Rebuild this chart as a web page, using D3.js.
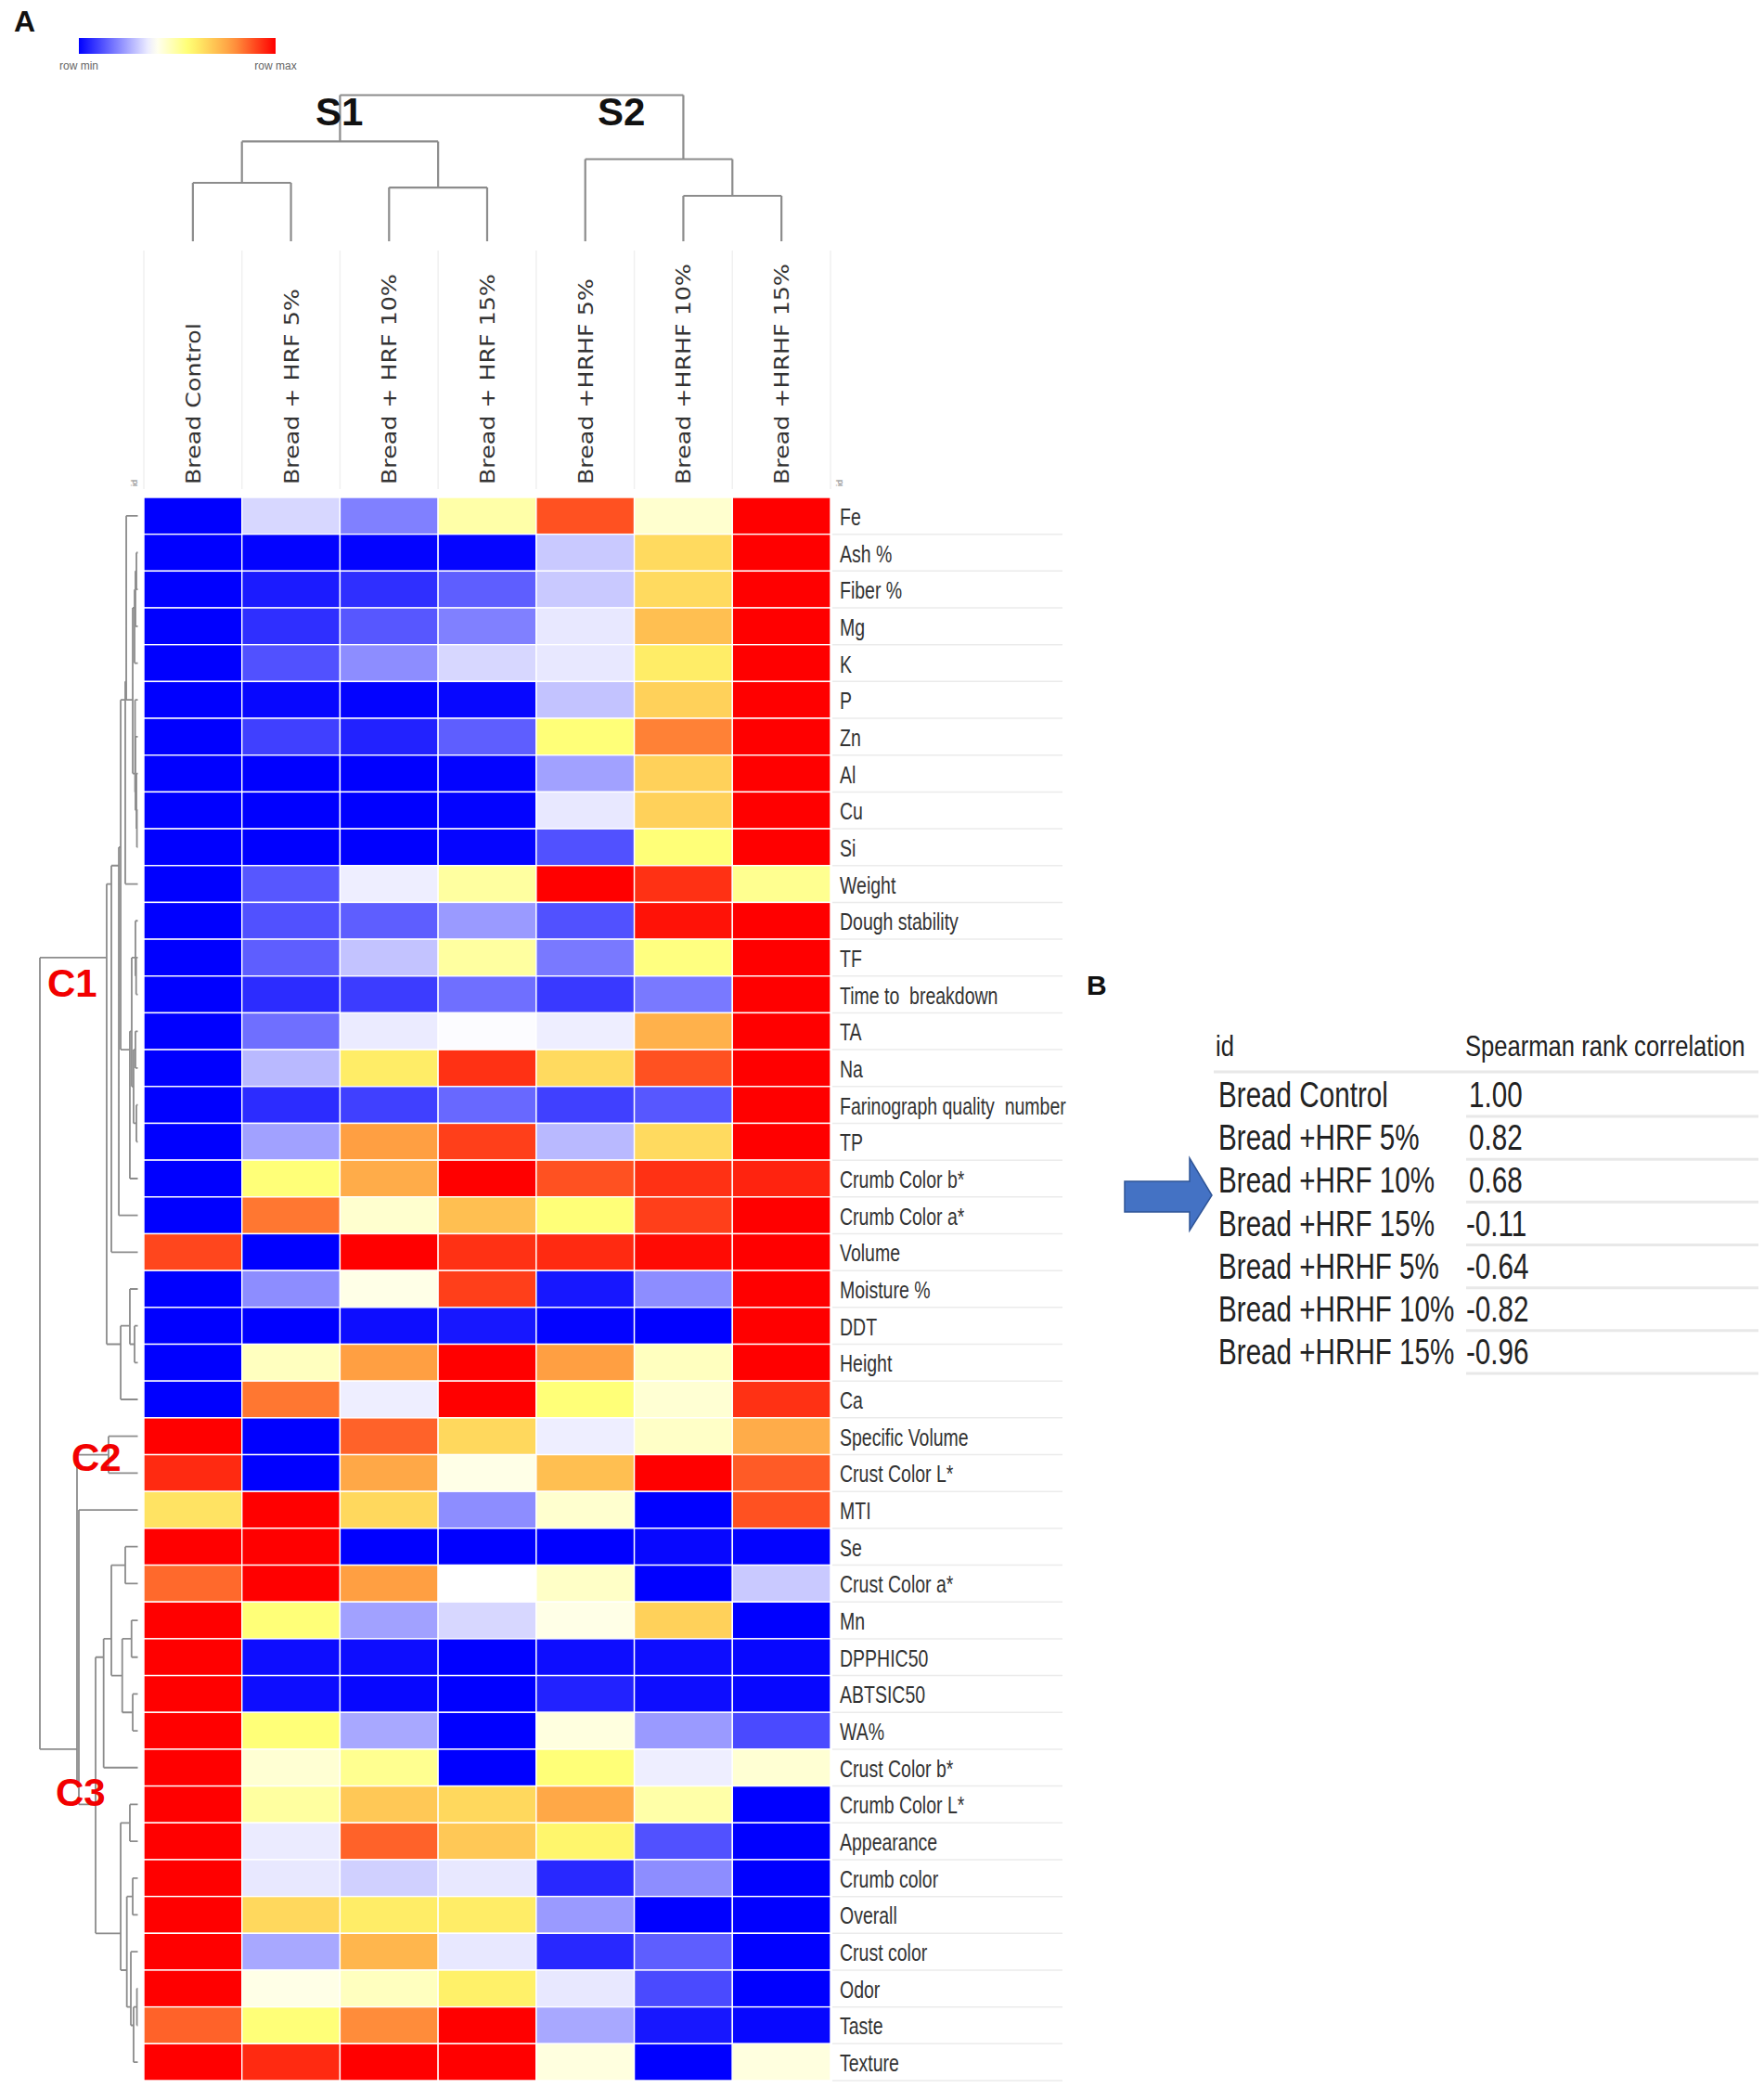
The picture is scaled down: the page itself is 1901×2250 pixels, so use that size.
<!DOCTYPE html>
<html>
<head>
<meta charset="utf-8">
<script src="https://cdn.jsdelivr.net/npm/d3@7/dist/d3.min.js"></script>
<style>
  body { margin: 0; background: #fff; }
  svg { display: block; }
</style>
</head>
<body>
<svg id="chart" width="1901" height="2250"></svg>
<script>
// ---------------- DATA ----------------
const rowNames = ["Fe","Ash %","Fiber %","Mg","K","P","Zn","Al","Cu","Si","Weight","Dough stability","TF",
  "Time to  breakdown","TA","Na","Farinograph quality  number","TP","Crumb Color b*","Crumb Color a*","Volume",
  "Moisture %","DDT","Height","Ca","Specific Volume","Crust Color L*","MTI","Se","Crust Color a*","Mn",
  "DPPHIC50","ABTSIC50","WA%","Crust Color b*","Crumb Color L*","Appearance","Crumb color","Overall",
  "Crust color","Odor","Taste","Texture"];

const colNames = ["Bread Control","Bread + HRF 5%","Bread + HRF 10%","Bread + HRF 15%",
  "Bread +HRHF 5%","Bread +HRHF 10%","Bread +HRHF 15%"];

// row-relative values (0 = row min, 1 = row max), one array per sample
const breadControl = [0,0,0,0,0,0,0,0,0,0, 0,0,0,0,0,0,0,0,0,0, .90,0,0,0,0, 1,.94,.62,1,.85, 1,1,1,1,1, 1,1,1,1,1, 1,.86,1];
const hrf5  = [.32,.005,.04,.07,.12,.01,.095,0,0,0, .13,.12,.14,.065,.165,.275,.065,.24,.55,.83, 0,.21,0,.46,.83, 0,0,1,1,1, .55,.02,.02,.55,.435, .50,.35,.346,.645,.25, .41,.55,.94];
const hrf10 = [.19,.005,.07,.13,.21,.005,.05,0,0,0, .354,.14,.29,.09,.35,.60,.095,.77,.74,.44, 1,.41,.02,.77,.354, .86,.75,.645,0,.77, .24,.02,.01,.25,.52, .68,.86,.31,.60,.72, .46,.80,1];
const hrf15 = [.49,.008,.14,.19,.32,.01,.14,.005,.005,.008, .50,.23,.50,.165,.375,.93,.155,.91,1,.70, .93,.91,.035,1,1, .645,.41,.21,0,.38, .32,0,0,0,0, .645,.68,.346,.60,.346, .59,1,1];
const hrhf5 = [.885,.30,.30,.346,.346,.29,.55,.24,.346,.12, 1,.12,.18,.085,.354,.64,.095,.275,.885,.55, .94,.035,.005,.77,.55, .354,.70,.44,0,.45, .41,.02,.05,.42,.55, .75,.58,.06,.23,.06, .346,.25,.42];
const hrhf10 = [.44,.64,.64,.70,.60,.66,.816,.66,.66,.55, .93,.975,.54,.18,.73,.885,.13,.64,.93,.91, .985,.21,0,.46,.435, .45,1,0,.01,0, .66,.02,.02,.23,.354, .49,.12,.21,0,.14, .11,.035,0];
const hrhf15 = [1,1,1,1,1,1,1,1,1,1, .52,1,1,1,1,1,1,1,.95,1, 1,1,1,1,.93, .74,.87,.885,.005,.30, 0,.01,.01,.11,.435, 0,0,0,0,0, 0,.01,.42];
const seriesValues = [breadControl, hrf5, hrf10, hrf15, hrhf5, hrhf10, hrhf15];

// colour scheme (row min -> row max)
const colorStops = [0, 0.38, 0.56, 0.78, 1];
const colorValues = ["#0000ff", "#ffffff", "#ffff70", "#ff9a40", "#ff0000"];

// dendrograms: [height, left, right]; integers are leaf indices
const colTree = [1, [0.683, [0.40, 0, 1], [0.368, 2, 3]], [0.562, 4, [0.311, 5, 6]]];
const rowTree =
 [1.0,
   [0.318,
     [0.270,
       [0.194,
         [0.175,
           [0.128, [0.118, 0, [0.052, [0.033, [0.024, [0.014, 1, 2], 3], 4], [0.028, 5, [0.024, 6, [0.014, 7, [0.009, 8, 9]]]]]], 10],
           [0.081, [0.062, [0.024, 11, [0.017, 12, 13]], [0.043, [0.024, 14, 15], [0.014, 16, 17]]], 18]],
         19],
       20],
     [0.175, [0.081, 21, [0.033, 22, 23]], 24]],
   [0.621,
     [0.299, 25, 26],
     [0.602, 27,
       [0.431,
         [0.349, [0.270, [0.128, 28, 29], [0.159, [0.064, 30, 31], [0.052, 32, 33]]], 34],
         [0.175, [0.081, 35, 36],
           [0.112, [0.052, 37, 38], [0.071, 39, [0.043, [0.009, 40, 41], 42]]]]]]]];

const clusterLabels = ["C1", "C2", "C3"];
const subgroupLabels = ["S1", "S2"];

const tableIds = ["Bread Control","Bread +HRF 5%","Bread +HRF 10%","Bread +HRF 15%",
  "Bread +HRHF 5%","Bread +HRHF 10%","Bread +HRHF 15%"];
const spearman = [1.00, 0.82, 0.68, -0.11, -0.64, -0.82, -0.96];

// ---------------- DRAW ----------------
const SANS = "'Liberation Sans', Arial, sans-serif";
const svg = d3.select("#chart");
svg.append("rect").attr("width", 1901).attr("height", 2250).attr("fill", "#fff");

const rowY = d3.scaleBand().domain(d3.range(rowNames.length)).range([536, 2242]);
const colX = d3.scaleBand().domain(d3.range(colNames.length)).range([155, 895]);
const color = d3.scaleLinear().domain(colorStops).range(colorValues).interpolate(d3.interpolateRgb).clamp(true);

function txt(sel) { return sel.style("font-family", SANS); }

// panel letter A
txt(svg.append("text")).attr("x", 15).attr("y", 34).attr("font-size", 32).attr("font-weight", "bold")
  .attr("fill", "#111").text("A");

// colour legend
const defs = svg.append("defs");
const grad = defs.append("linearGradient").attr("id", "lg");
d3.range(0, 1.0001, 0.05).forEach(t => grad.append("stop").attr("offset", t).attr("stop-color", color(t)));
const legX = d3.scaleLinear().domain([0, 1]).range([85, 297]);
svg.append("rect").attr("x", legX(0)).attr("y", 41).attr("width", legX(1) - legX(0)).attr("height", 17)
  .attr("fill", "url(#lg)");
txt(svg.append("text")).attr("x", legX(0)).attr("y", 75).attr("text-anchor", "middle").attr("font-size", 12)
  .attr("fill", "#666").text("row min");
txt(svg.append("text")).attr("x", legX(1)).attr("y", 75).attr("text-anchor", "middle").attr("font-size", 12)
  .attr("fill", "#666").text("row max");

// heatmap cells
const cells = [];
seriesValues.forEach((arr, j) => arr.forEach((v, i) => cells.push({i, j, v})));
svg.append("g").selectAll("rect").data(cells).join("rect")
  .attr("x", d => colX(d.j)).attr("y", d => rowY(d.i))
  .attr("width", colX.bandwidth()).attr("height", rowY.bandwidth())
  .attr("fill", d => color(d.v)).attr("stroke", "#fff").attr("stroke-width", 1.4);

// column label separators
svg.append("g").selectAll("line").data(d3.range(colNames.length + 1)).join("line")
  .attr("x1", k => 155 + k * colX.step()).attr("x2", k => 155 + k * colX.step())
  .attr("y1", 270).attr("y2", 527).attr("stroke", "#f0f0f0").attr("stroke-width", 1.5);

// column labels (rotated)
svg.append("g").selectAll("text").data(colNames).join("text")
  .attr("transform", (d, j) => `translate(${colX(j) + colX.bandwidth() / 2 + 8},522) rotate(-90) scale(1.15,1)`)
  .style("font-family", "'DejaVu Sans', Verdana, sans-serif").attr("font-size", 22).attr("fill", "#333")
  .text(d => d);

// tiny id labels
[148, 908].forEach(x => txt(svg.append("text"))
  .attr("transform", `translate(${x},524) rotate(-90)`).attr("font-size", 9).attr("fill", "#888").text("id"));

// row label separators
svg.append("g").selectAll("line").data(d3.range(1, rowNames.length + 1)).join("line")
  .attr("x1", 897).attr("x2", 1145)
  .attr("y1", k => rowY.range()[0] + k * rowY.step()).attr("y2", k => rowY.range()[0] + k * rowY.step())
  .attr("stroke", "#ebebeb").attr("stroke-width", 1.5);

// row labels
svg.append("g").selectAll("text").data(rowNames).join("text")
  .attr("transform", (d, i) => `translate(905,${rowY(i) + rowY.bandwidth() / 2 + 10}) scale(0.78,1)`)
  .style("font-family", SANS).style("white-space", "pre")
  .attr("font-size", 25).attr("fill", "#333")
  .text(d => d);

// ---- dendrogram helper ----
function buildTree(node, leafPos) {
  if (typeof node === "number") return {h: 0, first: node, last: node, pos: leafPos(node), kids: []};
  const a = buildTree(node[1], leafPos), b = buildTree(node[2], leafPos);
  return {h: node[0], first: a.first, last: b.last, pos: (leafPos(a.first) + leafPos(b.last)) / 2, kids: [a, b]};
}
function collect(n, out) { if (n.kids.length) { out.push(n); n.kids.forEach(k => collect(k, out)); } return out; }

// column dendrogram (top)
const colPos = j => colX(j) + colX.bandwidth() / 2;
const colH = d3.scaleLinear().domain([0, 1]).range([260, 102.5]);
const colRoot = buildTree(colTree, colPos);
const colPath = d3.path();
collect(colRoot, []).forEach(n => {
  const y = colH(n.h);
  colPath.moveTo(n.kids[0].pos, y); colPath.lineTo(n.kids[1].pos, y);
  n.kids.forEach(k => { colPath.moveTo(k.pos, y); colPath.lineTo(k.pos, colH(k.h)); });
});
svg.append("path").attr("d", colPath.toString()).attr("fill", "none").attr("stroke", "#8c8c8c").attr("stroke-width", 2.2);

// S1 / S2 labels
[[340, 0], [644, 1]].forEach(([x, k]) => txt(svg.append("text")).attr("x", x).attr("y", 135)
  .attr("font-size", 42).attr("font-weight", "bold").attr("fill", "#111").text(subgroupLabels[k]));

// row dendrogram (left)
const rowPos = i => rowY(i) + rowY.bandwidth() / 2;
const rowH = d3.scaleLinear().domain([0, 1]).range([148.5, 43]);
const rowRoot = buildTree(rowTree, rowPos);
const rowPath = d3.path();
collect(rowRoot, []).forEach(n => {
  const x = rowH(n.h);
  rowPath.moveTo(x, n.kids[0].pos); rowPath.lineTo(x, n.kids[1].pos);
  n.kids.forEach(k => { rowPath.moveTo(x, k.pos); rowPath.lineTo(rowH(k.h), k.pos); });
});
svg.append("path").attr("d", rowPath.toString()).attr("fill", "none").attr("stroke", "#8c8c8c").attr("stroke-width", 1.8);

// cluster labels
[[51, 1074, 0], [77, 1585, 1], [60, 1946, 2]].forEach(([x, y, k]) => txt(svg.append("text"))
  .attr("x", x).attr("y", y).attr("font-size", 42).attr("font-weight", "bold").attr("fill", "#f20000")
  .text(clusterLabels[k]));

// ---------------- PANEL B ----------------
txt(svg.append("text")).attr("x", 1171).attr("y", 1072).attr("font-size", 30).attr("font-weight", "bold")
  .attr("fill", "#111").text("B");

const tY = d3.scaleLinear().domain([0, tableIds.length - 1]).range([1193, 1470]);
const lineYs = [1155].concat(d3.range(tableIds.length).map(i => tY(i) + 10));
svg.append("g").selectAll("line").data(lineYs).join("line")
  .attr("x1", (d, i) => i === 0 ? 1308 : 1580).attr("x2", 1895)
  .attr("y1", d => d).attr("y2", d => d).attr("stroke", "#e8e8e8").attr("stroke-width", 3);

txt(svg.append("text")).attr("transform", "translate(1310,1138) scale(0.8,1)").attr("font-size", 32)
  .attr("fill", "#222").text("id");
txt(svg.append("text")).attr("transform", "translate(1579,1138) scale(0.8,1)").attr("font-size", 32)
  .attr("fill", "#222").text("Spearman rank correlation");

svg.append("g").selectAll("text").data(tableIds).join("text")
  .attr("transform", (d, i) => `translate(1313,${tY(i)}) scale(0.76,1)`)
  .style("font-family", SANS).attr("font-size", 39).attr("fill", "#222").text(d => d);
svg.append("g").selectAll("text").data(spearman).join("text")
  .attr("transform", (d, i) => `translate(${d < 0 ? 1580 : 1583},${tY(i)}) scale(0.76,1)`)
  .style("font-family", SANS).attr("font-size", 39).attr("fill", "#222").text(d => d.toFixed(2));

// arrow
const arrowPts = [[1212, 1273], [1282, 1273], [1282, 1248], [1306, 1288], [1282, 1326], [1282, 1306], [1212, 1306]];
svg.append("path").attr("d", d3.line()(arrowPts) + "Z").attr("fill", "#4472c4")
  .attr("stroke", "#2f5597").attr("stroke-width", 1.5);
</script>
</body>
</html>
